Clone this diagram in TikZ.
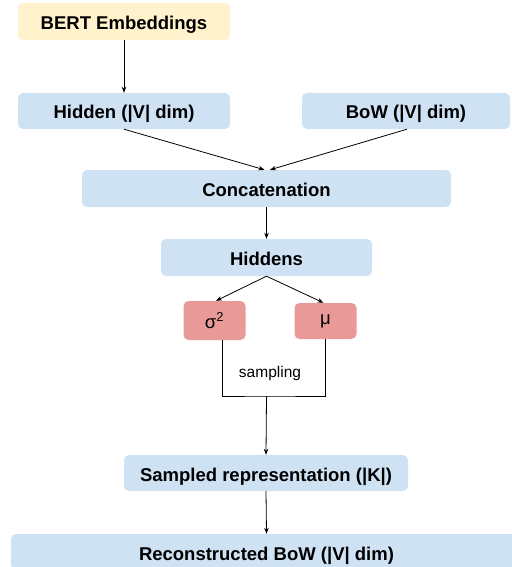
\documentclass[tikz,border=0pt]{standalone}
\usepackage{fontspec}
\setmainfont{Liberation Sans}
\usetikzlibrary{arrows.meta,calc}
\definecolor{byellow}{HTML}{FFF2CC}
\definecolor{bblue}{HTML}{CFE2F3}
\definecolor{bred}{HTML}{EA9999}
\tikzset{
  box/.style={rounded corners=5pt, draw=none, inner sep=0pt, text height=16pt, text depth=0pt, font=\fontsize{18.5}{21}\selectfont\bfseries},
  yellowbox/.style={box, fill=byellow},
  bluebox/.style={box, fill=bblue},
  redbox/.style={rounded corners=5pt, draw=none, fill=bred, inner sep=0pt, font=\fontsize{18.5}{21}\selectfont},
  conn/.style={line width=0.8pt, -{Stealth[length=6pt,width=4.5pt]}},
  plain/.style={line width=0.8pt},
}
\begin{document}
\begin{tikzpicture}[x=1pt,y=-1pt]
\useasboundingbox (0,0) rectangle (511,567);
\node[yellowbox, minimum width=212pt, minimum height=37pt] (bert) at (124,21.5) {BERT Embeddings};
\node[bluebox, minimum width=212pt, minimum height=36pt] (hid) at (124,111) {Hidden (|V| dim)};
\node[bluebox, minimum width=208pt, minimum height=36pt] (bow) at (406,111) {BoW (|V| dim)};
\node[bluebox, minimum width=369pt, minimum height=37pt] (concat) at (266.5,188.5) {Concatenation};
\node[bluebox, minimum width=211pt, minimum height=37pt] (hiddens) at (266.5,257.5) {Hiddens};
\node[redbox, minimum width=62pt, minimum height=39pt] (sig) at (214.5,320.5) {σ\textsuperscript{2}};
\node[redbox, minimum width=62pt, minimum height=36pt] (mu) at (325.5,321) {μ};
\node[bluebox, minimum width=284pt, minimum height=36pt] (sampled) at (266,473) {Sampled representation (|K|)};
\node[bluebox, minimum width=511pt, minimum height=36pt] (recon) at (266.5,552) {Reconstructed BoW (|V| dim)};
\coordinate (join) at (266.5,396);
\draw[conn] (bert.south) -- (hid.north);
\draw[conn] (hid.south) -- ([xshift=-2pt]concat.north);
\draw[conn] ([xshift=1pt]bow.south) -- ([xshift=3.5pt]concat.north);
\draw[conn] (concat.south) -- (hiddens.north);
\draw[conn] (hiddens.south) -- ([xshift=1.5pt]sig.north);
\draw[conn] (hiddens.south) -- ([xshift=-2pt]mu.north);
\draw[plain] ([xshift=7.5pt]sig.south) |- (join) -| (mu.south);
\node[font=\fontsize{15.5}{17}\selectfont] (samp) at (270,373) {sampling};
\draw[conn] (join) -- (sampled.north);
\draw[conn] (sampled.south) -- (recon.north);
\end{tikzpicture}
\end{document}
